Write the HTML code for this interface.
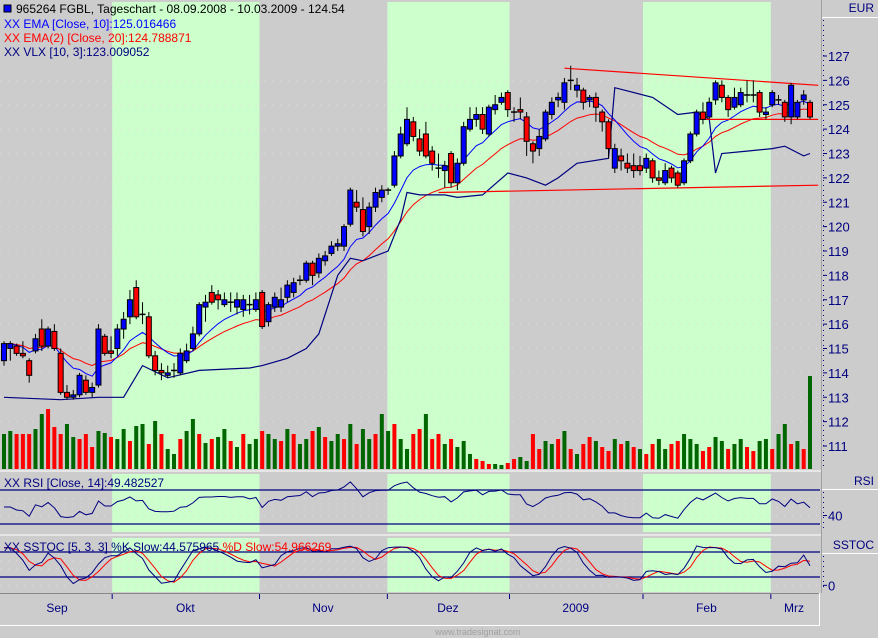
<!DOCTYPE html>
<html><head><meta charset="utf-8"><style>
html,body{margin:0;padding:0;background:#cccccc;}
svg{display:block;font-family:"Liberation Sans",sans-serif;}
</style></head><body>
<svg id="chart" width="878" height="638" viewBox="0 0 878 638" xmlns="http://www.w3.org/2000/svg">
<rect x="0" y="0" width="878" height="638" fill="#cccccc"/>
<g id="bands"></g>
<g id="grid"></g>
<g id="vol"></g>
<g id="lines"></g>
<g id="candles"></g>
<g id="sub"></g>
<g id="axis"></g>
<g font-size="12">
<rect x="4" y="5" width="7" height="7" fill="#0000ff" stroke="#000"/>
<text x="16" y="13" fill="#000">965264  FGBL, Tageschart - 08.09.2008 - 10.03.2009 - 124.54</text>
<text x="4" y="28" fill="#0000ff">XX EMA [Close, 10]:125.016466</text>
<text x="4" y="42" fill="#ff0000">XX EMA(2) [Close, 20]:124.788871</text>
<text x="4" y="56" fill="#000080">XX VLX [10, 3]:123.009052</text>
<text x="4" y="487" fill="#000080">XX RSI [Close, 14]:49.482527</text>
<text x="4" y="551" fill="#000080">XX SSTOC [5, 3, 3] %K Slow:44.575965 <tspan fill="#ff0000">%D Slow:54.966269</tspan></text>
</g>
<g>
<rect x="0" y="593" width="820" height="32" fill="#cccccc" stroke="none"/>
<line x1="0" y1="593.5" x2="820" y2="593.5" stroke="#888"/>
<line x1="0" y1="625.5" x2="820" y2="625.5" stroke="#ffffff"/>
<line x1="819.5" y1="593" x2="819.5" y2="626" stroke="#ffffff"/>
<g id="xticks"></g>
<text x="435" y="635" font-size="9" fill="#a0a0a0">www.tradesignat.com</text>
</g>
</svg>
<script>
// ---- data ----
const opens=[114.5,115.0,115.1,114.8,114.5,114.9,115.8,115.1,115.7,114.8,113.2,113.0,113.1,113.7,113.2,113.5,115.5,114.9,115.0,115.8,116.3,117.5,116.4,116.3,114.7,114.1,113.9,114.1,114.0,114.5,115.0,115.6,116.7,117.3,117.2,116.8,116.9,116.7,116.6,116.8,116.6,117.3,116.1,116.7,116.7,117.1,117.3,117.8,117.8,118.5,118.1,118.6,118.9,119.2,119.2,120.1,121.0,120.7,120.0,120.8,121.2,121.5,121.7,122.9,123.4,124.3,123.6,123.8,123.1,122.4,122.3,123.0,121.8,122.6,124.0,124.4,124.6,123.8,124.8,125.1,125.5,124.7,124.8,124.5,123.4,123.2,123.6,124.6,125.2,125.1,126.0,125.6,125.6,125.2,125.3,124.7,124.3,122.4,122.9,122.6,122.5,122.5,122.4,122.7,122.0,121.8,122.4,122.2,121.8,122.7,123.8,124.7,124.5,125.2,125.8,125.3,124.9,125.0,125.4,125.4,125.5,124.6,125.0,125.2,125.1,124.5,124.5,125.2,125.1];
const highs=[115.3,115.3,115.2,115.3,114.6,115.6,116.2,115.9,116.0,115.0,113.5,113.3,114.0,113.9,113.6,116.0,115.6,115.5,116.0,116.5,117.4,117.8,116.9,116.5,114.9,114.4,114.3,114.4,115.0,115.2,115.9,116.9,117.2,117.6,117.4,117.3,117.3,117.3,117.2,117.2,117.3,117.4,116.9,117.3,117.5,117.8,117.9,118.0,118.6,118.6,118.9,119.0,119.4,119.5,120.1,121.6,121.5,121.2,121.0,121.6,121.7,121.6,123.1,124.1,124.9,124.5,124.0,124.3,123.3,123.0,122.7,123.1,122.8,124.3,124.9,124.9,124.9,125.0,125.4,125.5,125.6,124.9,125.3,124.7,123.5,124.0,124.8,125.3,125.5,126.1,126.6,126.1,125.7,125.4,125.5,124.8,124.4,123.4,123.2,123.0,123.0,122.9,123.0,122.8,122.3,122.6,122.5,122.3,122.8,123.9,124.8,125.1,125.3,126.0,126.0,125.4,125.7,125.7,126.0,126.0,125.6,124.9,125.6,125.4,125.2,125.9,125.2,125.6,125.2];
const lows=[114.3,114.5,114.7,114.6,113.6,114.8,114.9,115.0,114.9,113.1,112.9,112.9,113.0,113.1,113.0,113.4,114.7,114.6,114.7,115.4,116.0,116.2,116.0,114.6,113.9,113.7,113.8,113.8,113.9,114.4,114.9,115.5,116.1,116.8,116.6,116.7,116.5,116.4,116.3,116.4,116.5,115.8,115.9,116.5,116.5,116.9,117.1,117.6,117.7,117.6,117.9,118.4,118.8,119.0,119.0,120.0,120.6,119.6,119.7,120.6,121.0,121.3,121.6,122.8,123.3,123.5,122.9,122.8,122.3,122.0,121.6,121.6,121.5,122.5,123.9,124.1,123.8,123.7,124.6,125.0,124.5,124.3,124.4,122.9,122.6,122.9,123.5,124.4,124.9,124.8,125.6,125.3,124.8,124.9,124.3,123.9,122.8,122.2,122.3,122.2,122.0,122.1,122.2,121.8,121.7,121.7,121.8,121.6,121.7,122.6,123.7,124.2,124.4,125.0,125.1,124.5,124.8,124.9,125.1,125.1,124.5,124.4,124.9,125.0,124.3,124.2,124.4,125.0,124.4];
const closes=[115.2,115.2,114.8,114.7,113.9,115.4,115.1,115.8,115.0,113.2,113.0,113.1,113.9,113.2,113.4,115.8,114.8,114.8,115.8,116.2,117.0,116.3,116.4,114.7,114.1,114.0,114.0,114.1,114.8,114.9,115.6,116.8,116.9,116.9,117.0,117.0,116.9,117.0,117.0,116.8,117.0,115.9,116.8,117.1,117.0,117.6,117.7,117.8,118.5,118.0,118.7,118.8,119.2,119.3,120.0,121.5,120.8,119.8,120.8,121.4,121.5,121.5,122.9,123.8,124.4,123.7,123.1,122.9,122.6,122.4,122.5,121.8,122.6,124.1,124.4,124.6,124.0,124.9,125.0,125.3,124.8,124.7,124.7,123.5,123.1,123.7,124.7,125.1,125.3,125.9,126.0,125.8,125.1,125.3,124.9,124.3,123.2,123.2,122.7,122.4,122.3,122.3,122.8,122.0,121.9,122.3,122.0,121.7,122.7,123.8,124.7,124.4,125.1,125.9,125.3,124.8,125.3,125.5,125.4,125.4,124.7,124.7,125.5,125.2,124.5,125.8,125.1,125.4,124.5];
const volumes=[35,38,35,35,35,40,55,60,42,35,45,32,30,35,22,38,36,32,30,40,28,43,45,25,48,35,20,15,30,38,50,35,26,30,32,40,28,22,35,25,30,38,35,30,28,40,35,25,30,38,42,32,28,35,30,45,25,40,30,35,55,38,45,30,20,35,40,55,30,35,25,30,22,28,15,10,8,5,5,4,6,10,12,8,35,20,28,25,30,38,20,15,25,32,28,22,18,30,25,28,22,20,15,25,30,20,25,28,35,30,25,18,22,32,28,20,25,30,22,18,28,30,20,35,45,25,28,20,93];
const volUp=[1,1,0,0,0,1,1,0,0,0,1,1,0,0,0,1,1,0,1,1,0,1,1,0,1,0,1,1,0,1,1,0,1,0,1,1,0,1,0,1,1,0,1,1,0,1,0,1,1,0,1,0,1,1,0,1,0,1,1,0,1,1,0,1,1,0,0,1,0,0,1,0,1,1,1,0,0,0,1,1,0,0,1,1,0,0,1,1,0,1,0,1,0,0,1,0,0,1,0,1,0,1,0,0,1,1,0,0,1,1,1,0,0,1,1,0,1,1,0,0,1,1,0,1,1,0,1,0,1];
const vlxIdx=[0,9,15,19,22,26,31,39,41,45,48,50,53,55,57,61,63,64,66,70,72,76,80,83,86,88,91,96,97,103,107,110,112,113,114,118,122,124,127,128];
const vlxVal=[113.0,112.9,113.0,113.0,114.3,113.8,114.1,114.2,114.3,114.6,115.0,115.6,118.0,118.7,118.6,119.0,120.3,121.4,121.3,121.3,121.2,121.3,122.2,122.0,121.7,122.0,122.6,122.8,125.7,125.3,124.6,124.7,124.4,122.2,123.0,123.1,123.2,123.3,122.9,123.0];
const trendUpperIdx=[89,129.3]; const trendUpperVal=[126.5,125.8];
const trendLowerIdx=[69,129.3]; const trendLowerVal=[121.4,121.7];
const trendMidIdx=[110,129.3]; const trendMidVal=[124.4,124.4];
const priceTicks=[127,126,125,124,123,122,121,120,119,118,117,116,115,114,113,112,111];
const monthLabels=["Sep","Okt","Nov","Dez","2009","Feb","Mrz"];
const monthStartIdx=[0,17.1,40.5,60.8,80.2,101.4,121.7,128.5];

// ---- scales ----
const NS="http://www.w3.org/2000/svg";
const N=closes.length;
const X0=4, XSTEP=806/(N-1);
function xOf(i){return X0+i*XSTEP;}
function yP(p){return 56+(127-p)*24.375;}
function yV(v){return 469-v;}
function yR(v){return 524-(v-30)*0.85;}
function yS(v){return 577-(v-20)*0.4167;}
function mk(tag,attrs,parent){const e=document.createElementNS(NS,tag);for(const k in attrs)e.setAttribute(k,attrs[k]);parent.appendChild(e);return e;}
const G=id=>document.getElementById(id);

const bands=G('bands');
for(let m=0;m<7;m++){
  if(m%2!==1) continue;
  const x1=xOf(monthStartIdx[m])+0.5, x2=xOf(monthStartIdx[m+1])+0.5;
  [[2,467],[474,58],[538,54]].forEach(([y,h])=>{
    const r=mk('rect',{x:x1,y:y,width:x2-x1,height:h,fill:'#ccffcc'},bands);
    
    
  });
}
const grid=G('grid');
priceTicks.forEach(p=>{const l=mk('line',{x1:0,x2:820,y1:yP(p),y2:yP(p),stroke:'#e4d8e4','stroke-dasharray':'1,7'},grid);
  
  });
[60,50,40].forEach(v=>{const l=mk('line',{x1:0,x2:820,y1:yR(v),y2:yR(v),stroke:'#e4d8e4','stroke-dasharray':'1,7'},grid);
  
  });
[60,40,0].forEach(v=>{const l=mk('line',{x1:0,x2:820,y1:yS(v),y2:yS(v),stroke:'#e4d8e4','stroke-dasharray':'1,7'},grid);
  
  });

const vol=G('vol');
volumes.forEach((v,i)=>{const r=mk('rect',{x:xOf(i)-2,y:yV(v),width:4,height:v,fill:volUp[i]?'#006600':'#ff0000'},vol);
  
  });

function ema(arr,n){const k=2/(n+1);const o=[];let e=arr[0];arr.forEach((v,i)=>{e=i?v*k+e*(1-k):v;o.push(e);});return o;}
function poly(pts,color,w,parent,name){const p=mk('polyline',{points:pts.map(a=>a[0].toFixed(1)+','+a[1].toFixed(1)).join(' '),fill:'none',stroke:color,'stroke-width':w},parent);
  
  return p;}
const lines=G('lines');
const e10=ema(closes,10), e20=ema(closes,20);
poly(e20.map((v,i)=>[xOf(i),yP(v)]),'#ff0000',1,lines,'ema20-line');
poly(e10.map((v,i)=>[xOf(i),yP(v)]),'#0000ff',1,lines,'ema10-line');
poly(vlxIdx.map((ix,k)=>[xOf(ix),yP(vlxVal[k])]),'#000080',1.2,lines,'vlx-line');
poly(trendUpperIdx.map((ix,k)=>[xOf(ix),yP(trendUpperVal[k])]),'#ff0000',1.2,lines,'trendline-upper');
poly(trendLowerIdx.map((ix,k)=>[xOf(ix),yP(trendLowerVal[k])]),'#ff0000',1.2,lines,'trendline-lower');
poly(trendMidIdx.map((ix,k)=>[xOf(ix),yP(trendMidVal[k])]),'#ff0000',1.2,lines,'trendline-support');

const cg=G('candles');
closes.forEach((c,i)=>{
  const o=opens[i],x=xOf(i);
  const g=mk('g',{},cg);
  
  
  mk('line',{x1:x,x2:x,y1:yP(highs[i]),y2:yP(lows[i]),stroke:'#000','stroke-width':1},g);
  if(Math.abs(c-o)<0.05){mk('line',{x1:x-3,x2:x+3,y1:yP(c),y2:yP(c),stroke:'#000','stroke-width':1.5},g);}
  else{const t=yP(Math.max(o,c)),b=yP(Math.min(o,c));
    mk('rect',{x:x-2.5,y:t,width:5,height:Math.max(b-t,1),fill:c>o?'#0000ff':'#ff0000',stroke:'#000','stroke-width':1},g);}
});

const sub=G('sub');
let ag=0,al=0;const rsi=[50];
for(let i=1;i<N;i++){const d=closes[i]-closes[i-1];const g=Math.max(d,0),l=Math.max(-d,0);
  if(i===1){ag=g+0.2;al=l+0.2;}else{ag=(ag*13+g)/14;al=(al*13+l)/14;}
  rsi.push(100-100/(1+ag/(al||1e-6)));}
[70,30].forEach(v=>{const l=mk('line',{x1:0,x2:820,y1:yR(v),y2:yR(v),stroke:'#000080','stroke-width':1.2},sub);
  
  });
poly(rsi.map((v,i)=>[xOf(i),yR(v)]),'#000080',1,sub,'rsi-line');
const rawK=closes.map((c,i)=>{const s=Math.max(0,i-4);const hh=Math.max(...highs.slice(s,i+1)),ll=Math.min(...lows.slice(s,i+1));return hh>ll?100*(c-ll)/(hh-ll):50;});
function sma(a,n){return a.map((v,i)=>{const s=Math.max(0,i-n+1);const w=a.slice(s,i+1);return w.reduce((p,q)=>p+q,0)/w.length;});}
const kS=sma(rawK,3), dS=sma(kS,3);
[80,20].forEach(v=>{const l=mk('line',{x1:0,x2:820,y1:yS(v),y2:yS(v),stroke:'#000080','stroke-width':1.2},sub);
  
  });
poly(dS.map((v,i)=>[xOf(i),yS(v)]),'#ff0000',1,sub,'sstoc-d-line');
poly(kS.map((v,i)=>[xOf(i),yS(v)]),'#000080',1,sub,'sstoc-k-line');

[[471,'#ffffff'],[535,'#ffffff']].forEach(([y,c])=>{const l=mk('line',{x1:0,x2:878,y1:y,y2:y,stroke:c,'stroke-width':1},sub);
  
  });

const ax=G('axis');
mk('rect',{x:821,y:0,width:57,height:593,fill:'#cccccc'},ax);
mk('line',{x1:821.5,x2:821.5,y1:0,y2:593,stroke:'#a0a0a0'},ax);
mk('line',{x1:822,x2:878,y1:17.5,y2:17.5,stroke:'#ffffff'},ax);
mk('line',{x1:822,x2:878,y1:489.5,y2:489.5,stroke:'#ffffff'},ax);
mk('line',{x1:822,x2:878,y1:553.5,y2:553.5,stroke:'#ffffff'},ax);
mk('line',{x1:823.5,x2:823.5,y1:20,y2:468,stroke:'#000080','stroke-dasharray':'1,4'},ax);
mk('line',{x1:823.5,x2:823.5,y1:492,y2:532,stroke:'#000080','stroke-dasharray':'1,4'},ax);
mk('line',{x1:823.5,x2:823.5,y1:556,y2:590,stroke:'#000080','stroke-dasharray':'1,4'},ax);
[['EUR',12],['RSI',485],['SSTOC',549]].forEach(([t,y])=>{const e=mk('text',{x:874,y:y,'text-anchor':'end','font-size':12,fill:'#000080'},ax);e.textContent=t;
  
  });
priceTicks.forEach(p=>{mk('line',{x1:823,x2:827,y1:yP(p),y2:yP(p),stroke:'#000080'},ax);
  const e=mk('text',{x:828,y:yP(p)+5,'font-size':13,fill:'#000080'},ax);e.textContent=p;
  
  });
[[40,yR(40)],[0,yS(0)]].forEach(([v,y])=>{mk('line',{x1:823,x2:827,y1:y,y2:y,stroke:'#000080'},ax);
  const e=mk('text',{x:828,y:y+5,'font-size':13,fill:'#000080'},ax);e.textContent=v;
  
  });

const xt=G('xticks');
for(let m=1;m<7;m++){const x=xOf(monthStartIdx[m])+0.5;mk('line',{x1:x,x2:x,y1:594,y2:599,stroke:'#000080'},xt);}
monthLabels.forEach((t,m)=>{
  let x=(xOf(monthStartIdx[m])+xOf(monthStartIdx[m+1]))/2;
  if(m===0)x=57; if(m===6)x=794;
  const e=mk('text',{x:x,y:612,'text-anchor':'middle','font-size':12,fill:'#000080'},xt);e.textContent=t;
  
  });
</script>
</body></html>
